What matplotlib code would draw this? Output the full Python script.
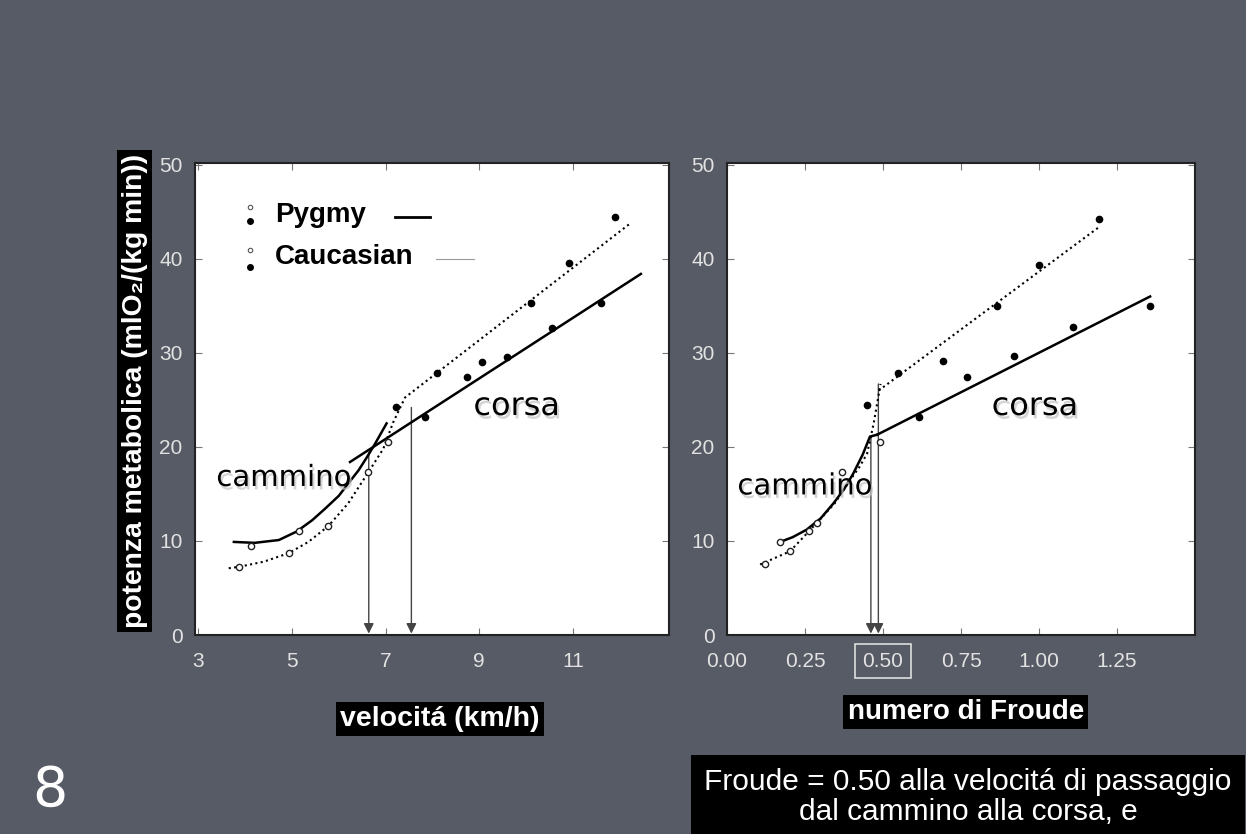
import matplotlib
matplotlib.use("Agg")
import matplotlib.pyplot as plt
import matplotlib.patheffects as pe

# --- left panel: metabolic power vs speed (km/h) ---
cau_walk_v = [3.87, 4.93, 5.78, 6.63]
cau_walk_p = [7.25, 8.7, 11.6, 17.3]
pyg_walk_v = [4.13, 5.16, 7.06]
pyg_walk_p = [9.5, 11.1, 20.5]
cau_run_v = [7.23, 8.09, 9.06, 10.11, 10.92, 11.90]
cau_run_p = [24.3, 27.9, 29.0, 35.3, 39.6, 44.5]
pyg_run_v = [7.84, 8.74, 9.60, 10.55, 11.60]
pyg_run_p = [23.2, 27.4, 29.6, 32.7, 35.3]

# fitted curves
pyg_walk_fit_v = [3.76, 4.2, 4.72, 5.1, 5.43, 5.7, 6.0, 6.2, 6.42, 6.6, 6.77, 7.02]
pyg_walk_fit_p = [9.9, 9.8, 10.1, 11.0, 12.2, 13.4, 14.8, 16.1, 17.5, 18.9, 20.3, 22.5]
pyg_run_fit_v = [6.24, 12.45]
pyg_run_fit_p = [18.4, 38.4]
cau_walk_fit_v = [3.65, 3.87, 4.4, 4.93, 5.35, 5.78, 6.2, 6.63, 6.95, 7.16, 7.38]
cau_walk_fit_p = [7.1, 7.25, 7.8, 8.7, 9.9, 11.6, 14.0, 17.3, 19.8, 22.6, 24.9]
cau_run_fit_v = [7.40, 12.23]
cau_run_fit_p = [25.2, 43.8]
trans_v = [6.64, 7.55]
trans_top_v = [19.4, 24.2]

# --- right panel: metabolic power vs Froude number ---
cau_walk_f = [0.122, 0.202, 0.287, 0.367]
cau_walk_pf = [7.6, 8.9, 11.9, 17.3]
pyg_walk_f = [0.170, 0.264, 0.490]
pyg_walk_pf = [9.9, 11.1, 20.5]
cau_run_f = [0.448, 0.549, 0.693, 0.864, 1.001, 1.193]
cau_run_pf = [24.5, 27.9, 29.1, 35.0, 39.4, 44.2]
pyg_run_f = [0.616, 0.768, 0.921, 1.110, 1.356]
pyg_run_pf = [23.2, 27.4, 29.7, 32.8, 35.0]

pyg_walk_fit_f = [0.170, 0.21, 0.255, 0.30, 0.341, 0.375, 0.405, 0.435, 0.458, 0.481]
pyg_walk_fit_pf = [9.9, 10.4, 11.2, 12.4, 14.0, 15.5, 17.2, 19.2, 21.1, 21.3]
pyg_run_fit_f = [0.481, 1.356]
pyg_run_fit_pf = [21.3, 36.0]
cau_walk_fit_f = [0.106, 0.202, 0.287, 0.345, 0.395, 0.425, 0.449, 0.470, 0.492]
cau_walk_fit_pf = [7.5, 8.9, 11.9, 14.0, 16.5, 17.9, 19.3, 22.5, 26.7]
cau_run_fit_f = [0.486, 1.197]
cau_run_fit_pf = [26.0, 43.5]
trans_f = [0.461, 0.485]
trans_top_f = [21.1, 26.7]

yticks = [0, 10, 20, 30, 40, 50]
v_ticks = [3, 5, 7, 9, 11]
f_ticks = [0.0, 0.25, 0.5, 0.75, 1.0, 1.25]
f_ticklabels = ["0.00", "0.25", "0.50", "0.75", "1.00", "1.25"]

BG = "#575b65"
plt.rcParams['font.family'] = ['Liberation Sans', 'DejaVu Sans']

fig = plt.figure(figsize=(12.46, 8.34), dpi=100, facecolor=BG)
ax1 = fig.add_axes([0.1565, 0.2386, 0.3804, 0.566])
ax2 = fig.add_axes([0.5835, 0.2386, 0.3756, 0.566])

shadow = [pe.withSimplePatchShadow(offset=(1.5, -2.5), shadow_rgbFace='#c4c4c4', alpha=0.7)]
dotted = (0, (1, 1.6))


def draw_panel(ax, d):
    ax.set_facecolor("white")
    ax.plot(d["pwx"], d["pwy"], color="black", lw=1.8, zorder=3)
    ax.plot(d["prx"], d["pry"], color="black", lw=1.8, zorder=3)
    ax.plot(d["cwx"], d["cwy"], color="black", lw=1.5, ls=dotted, zorder=3)
    ax.plot(d["crx"], d["cry"], color="black", lw=1.5, ls=dotted, zorder=3)
    for pts in (d["cw"], d["pw"]):
        ax.plot(pts[0], pts[1], 'o', ms=4.5, mfc="white", mec="#222", mew=1.0, zorder=4)
    for pts in (d["cr"], d["pr"]):
        ax.plot(pts[0], pts[1], 'o', ms=4.5, color="black", zorder=4)
    for x, top in zip(d["ax"], d["atop"]):
        ax.annotate("", xy=(x, 0.15), xytext=(x, top),
                    arrowprops=dict(arrowstyle='-|>', color='#444444', lw=1.0,
                                    mutation_scale=15, shrinkA=0, shrinkB=0), zorder=2)
    ax.set_ylim(0, 50.2)
    ax.set_yticks(yticks)
    ax.tick_params(direction='in', length=5, width=0.8, color='#777777', top=True, right=True,
                   labelsize=15, labelcolor='#e2e2e2')
    ax.tick_params(axis='y', pad=9)
    ax.tick_params(axis='x', pad=12)
    for s in ax.spines.values():
        s.set_color('#222222')
        s.set_linewidth(1.5)
    ax.text(d["cam"][0], d["cam"][1], "cammino", fontsize=21, family="DejaVu Sans",
            ha="center", va="center", path_effects=shadow, zorder=5)
    ax.text(d["cor"][0], d["cor"][1], "corsa", fontsize=23, family="DejaVu Sans",
            ha="center", va="center", path_effects=shadow, zorder=5)


draw_panel(ax1, dict(pwx=pyg_walk_fit_v, pwy=pyg_walk_fit_p, prx=pyg_run_fit_v, pry=pyg_run_fit_p,
                     cwx=cau_walk_fit_v, cwy=cau_walk_fit_p, crx=cau_run_fit_v, cry=cau_run_fit_p,
                     cw=(cau_walk_v, cau_walk_p), pw=(pyg_walk_v, pyg_walk_p),
                     cr=(cau_run_v, cau_run_p), pr=(pyg_run_v, pyg_run_p),
                     ax=trans_v, atop=trans_top_v, cam=(4.83, 16.7), cor=(9.80, 24.3)))
ax1.set_xlim(2.93, 13.05)
ax1.set_xticks(v_ticks)

draw_panel(ax2, dict(pwx=pyg_walk_fit_f, pwy=pyg_walk_fit_pf, prx=pyg_run_fit_f, pry=pyg_run_fit_pf,
                     cwx=cau_walk_fit_f, cwy=cau_walk_fit_pf, crx=cau_run_fit_f, cry=cau_run_fit_pf,
                     cw=(cau_walk_f, cau_walk_pf), pw=(pyg_walk_f, pyg_walk_pf),
                     cr=(cau_run_f, cau_run_pf), pr=(pyg_run_f, pyg_run_pf),
                     ax=trans_f, atop=trans_top_f, cam=(0.25, 15.8), cor=(0.987, 24.3)))
ax2.set_xlim(0, 1.5)
ax2.set_xticks(f_ticks)
ax2.set_xticklabels(f_ticklabels)
ax2.get_xticklabels()[2].set_bbox(dict(boxstyle='square,pad=0.35', fc='none', ec='#dddddd', lw=1.2))

# legend, built by hand (markers / label / line sample)
tr = ax1.transAxes
for y_open, y_fill, y_txt, name, x0, x1, lw, lc in [
        (0.907, 0.877, 0.890, "Pygmy", 0.421, 0.495, 2.0, "black"),
        (0.816, 0.780, 0.801, "Caucasian", 0.509, 0.589, 0.8, "#999999")]:
    ax1.plot([0.116], [y_open], 'o', ms=3.2, mfc="white", mec="#555", mew=0.8, transform=tr)
    ax1.plot([0.116], [y_fill], 'o', ms=4, color="black", transform=tr)
    ax1.text(0.168, y_txt, name, transform=tr, fontsize=20, fontweight="bold", va="center")
    ax1.plot([x0, x1], [y_txt - 0.005, y_txt - 0.005], color=lc, lw=lw, transform=tr)

lab_box = dict(facecolor='black', edgecolor='none', boxstyle='square,pad=0.15')
fig.text(0.108, 0.531, "potenza metabolica (mlO\u2082/(kg min))", rotation=90, color="white",
         fontsize=20.3, fontweight="bold", ha="center", va="center", bbox=lab_box)
fig.text(0.353, 0.138, "velocit\u00e1 (km/h)", color="white", fontsize=20.5, fontweight="bold",
         ha="center", va="center", bbox=lab_box)
fig.text(0.775, 0.146, "numero di Froude", color="white", fontsize=20, fontweight="bold",
         ha="center", va="center", bbox=lab_box)
fig.text(0.777, 0.079, "Froude = 0.50 alla velocit\u00e1 di passaggio\ndal cammino alla corsa, e",
         color="white", fontsize=21.5, ha="center", va="top", linespacing=1.1,
         bbox=dict(facecolor='black', edgecolor='none', boxstyle='square,pad=0.45'))
fig.text(0.040, 0.052, "8", color="white", fontsize=40, family="DejaVu Sans",
         ha="center", va="center")

fig.savefig("out.png", dpi=100, facecolor=BG)
